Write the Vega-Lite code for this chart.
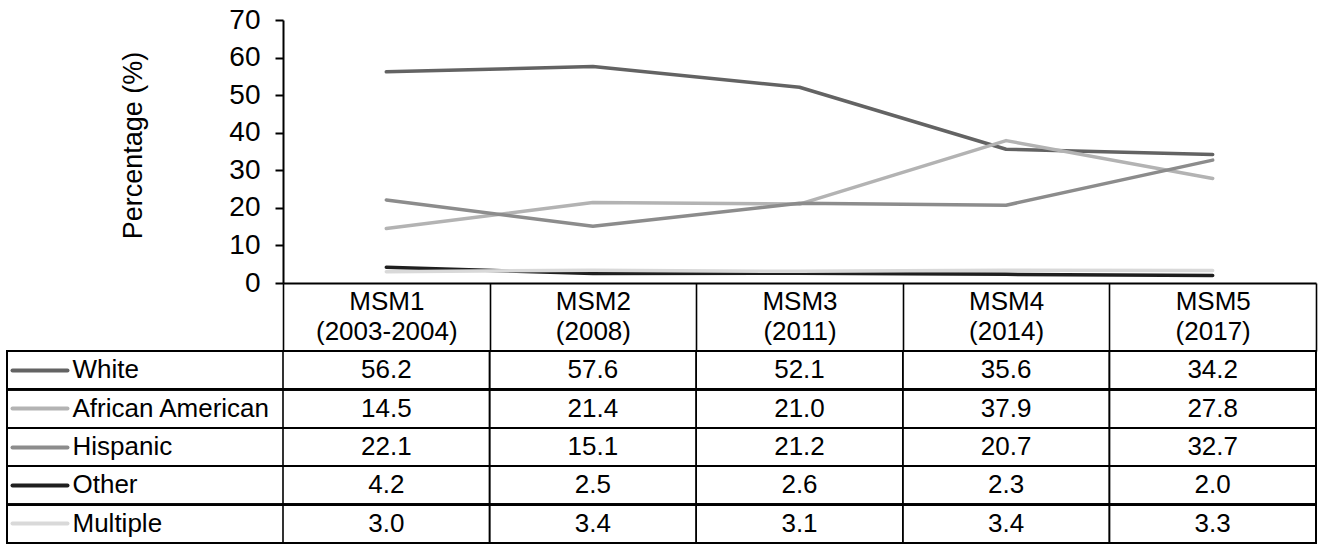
{
  "$schema": "https://vega.github.io/schema/vega-lite/v6.json",
  "autosize": {"type": "none"},
  "width": 1309,
  "height": 524,
  "padding": {"left": 7, "top": 20, "right": 9, "bottom": 0},
  "background": "white",
  "config": {
    "view": {"stroke": null},
    "font": "Liberation Sans",
    "axis": {"labelFont": "Liberation Sans", "titleFont": "Liberation Sans", "labelColor": "black", "titleColor": "black"},
    "axisX": {
      "orient": "bottom", "offset": -261, "title": null,
      "domainColor": "black", "domainWidth": 2,
      "tickBand": "extent", "tickSize": 68, "tickColor": "black", "tickWidth": 1.6,
      "labelAngle": 0, "labelFontSize": 26, "labelBaseline": "top", "labelPadding": -63,
      "labelLineHeight": 30
    },
    "text": {"font": "Liberation Sans"}
  },
  "data": {
    "values": [
      {"wave": "MSM1 (2003-2004)", "race": "White", "value": 56.2},
      {"wave": "MSM2 (2008)", "race": "White", "value": 57.6},
      {"wave": "MSM3 (2011)", "race": "White", "value": 52.1},
      {"wave": "MSM4 (2014)", "race": "White", "value": 35.6},
      {"wave": "MSM5 (2017)", "race": "White", "value": 34.2},
      {"wave": "MSM1 (2003-2004)", "race": "African American", "value": 14.5},
      {"wave": "MSM2 (2008)", "race": "African American", "value": 21.4},
      {"wave": "MSM3 (2011)", "race": "African American", "value": 21.0},
      {"wave": "MSM4 (2014)", "race": "African American", "value": 37.9},
      {"wave": "MSM5 (2017)", "race": "African American", "value": 27.8},
      {"wave": "MSM1 (2003-2004)", "race": "Hispanic", "value": 22.1},
      {"wave": "MSM2 (2008)", "race": "Hispanic", "value": 15.1},
      {"wave": "MSM3 (2011)", "race": "Hispanic", "value": 21.2},
      {"wave": "MSM4 (2014)", "race": "Hispanic", "value": 20.7},
      {"wave": "MSM5 (2017)", "race": "Hispanic", "value": 32.7},
      {"wave": "MSM1 (2003-2004)", "race": "Other", "value": 4.2},
      {"wave": "MSM2 (2008)", "race": "Other", "value": 2.5},
      {"wave": "MSM3 (2011)", "race": "Other", "value": 2.6},
      {"wave": "MSM4 (2014)", "race": "Other", "value": 2.3},
      {"wave": "MSM5 (2017)", "race": "Other", "value": 2.0},
      {"wave": "MSM1 (2003-2004)", "race": "Multiple", "value": 3.0},
      {"wave": "MSM2 (2008)", "race": "Multiple", "value": 3.4},
      {"wave": "MSM3 (2011)", "race": "Multiple", "value": 3.1},
      {"wave": "MSM4 (2014)", "race": "Multiple", "value": 3.4},
      {"wave": "MSM5 (2017)", "race": "Multiple", "value": 3.3}
    ]
  },
  "resolve": {"scale": {"y": "independent"}, "axis": {"y": "independent"}},
  "layer": [
    {
      "mark": {"type": "line", "strokeWidth": 3.5, "strokeCap": "round", "strokeJoin": "round"},
      "encoding": {
        "x": {
          "field": "wave", "type": "nominal",
          "scale": {"type": "band", "domain": ["MSM1 (2003-2004)", "MSM2 (2008)", "MSM3 (2011)", "MSM4 (2014)", "MSM5 (2017)"], "range": [276, 1309], "paddingInner": 0, "paddingOuter": 0},
          "axis": {"labelExpr": "split(datum.label, ' ')"}
        },
        "y": {
          "field": "value", "type": "quantitative",
          "scale": {"domain": [0, 70], "range": [263, 0], "nice": false},
          "axis": {
            "orient": "left", "offset": -276, "values": [0, 10, 20, 30, 40, 50, 60, 70],
            "grid": false, "domainColor": "black", "domainWidth": 2,
            "tickColor": "black", "tickWidth": 2, "tickSize": 8,
            "labelFontSize": 28, "labelPadding": 15,
            "title": "Percentage (%)", "titleFontSize": 27, "titleFontWeight": "normal",
            "titleX": -136, "titleY": 125
          }
        },
        "color": {
          "field": "race", "type": "nominal",
          "scale": {"domain": ["White", "African American", "Hispanic", "Other", "Multiple"], "range": ["#636363", "#b3b3b3", "#8c8c8c", "#1f1f1f", "#d9d9d9"]},
          "legend": null
        },
        "order": {"field": "race", "type": "nominal"}
      }
    },
    {
      "mark": {"type": "rect", "filled": false, "stroke": "black", "strokeWidth": 1.6},
      "encoding": {
        "y": {
          "field": "race", "type": "nominal",
          "scale": {"type": "band", "domain": ["White", "African American", "Hispanic", "Other", "Multiple"], "range": [331, 523], "paddingInner": 0, "paddingOuter": 0},
          "axis": {
            "orient": "left", "offset": -60, "title": null, "domain": false, "zindex": 1,
            "tickSize": 55, "tickWidth": 4, "tickCap": "round",
            "tickColor": {"condition": [
              {"test": "datum.value === 'White'", "value": "#636363"},
              {"test": "datum.value === 'African American'", "value": "#b3b3b3"},
              {"test": "datum.value === 'Hispanic'", "value": "#8c8c8c"},
              {"test": "datum.value === 'Other'", "value": "#1f1f1f"}
            ], "value": "#d9d9d9"},
            "labelAlign": "left", "labelBaseline": "middle", "labelPadding": -60, "labelFontSize": 26, "labelLimit": 0
          }
        }
      }
    },
    {
      "mark": {"type": "rect", "filled": false, "stroke": "black", "strokeWidth": 1.6},
      "encoding": {
        "x": {"field": "wave", "type": "nominal", "axis": {"labelExpr": "split(datum.label, ' ')"}},
        "y": {
          "field": "race", "type": "nominal", "axis": null,
          "scale": {"type": "band", "domain": ["White", "African American", "Hispanic", "Other", "Multiple"], "range": [331, 523], "paddingInner": 0, "paddingOuter": 0}
        }
      }
    },
    {
      "mark": {"type": "text", "fontSize": 26, "color": "black", "baseline": "middle", "align": "center"},
      "encoding": {
        "x": {"field": "wave", "type": "nominal", "axis": {"labelExpr": "split(datum.label, ' ')"}},
        "y": {
          "field": "race", "type": "nominal", "axis": null,
          "scale": {"type": "band", "domain": ["White", "African American", "Hispanic", "Other", "Multiple"], "range": [331, 523], "paddingInner": 0, "paddingOuter": 0}
        },
        "text": {"field": "value", "type": "quantitative", "format": ".1f"}
      }
    }
  ]
}
